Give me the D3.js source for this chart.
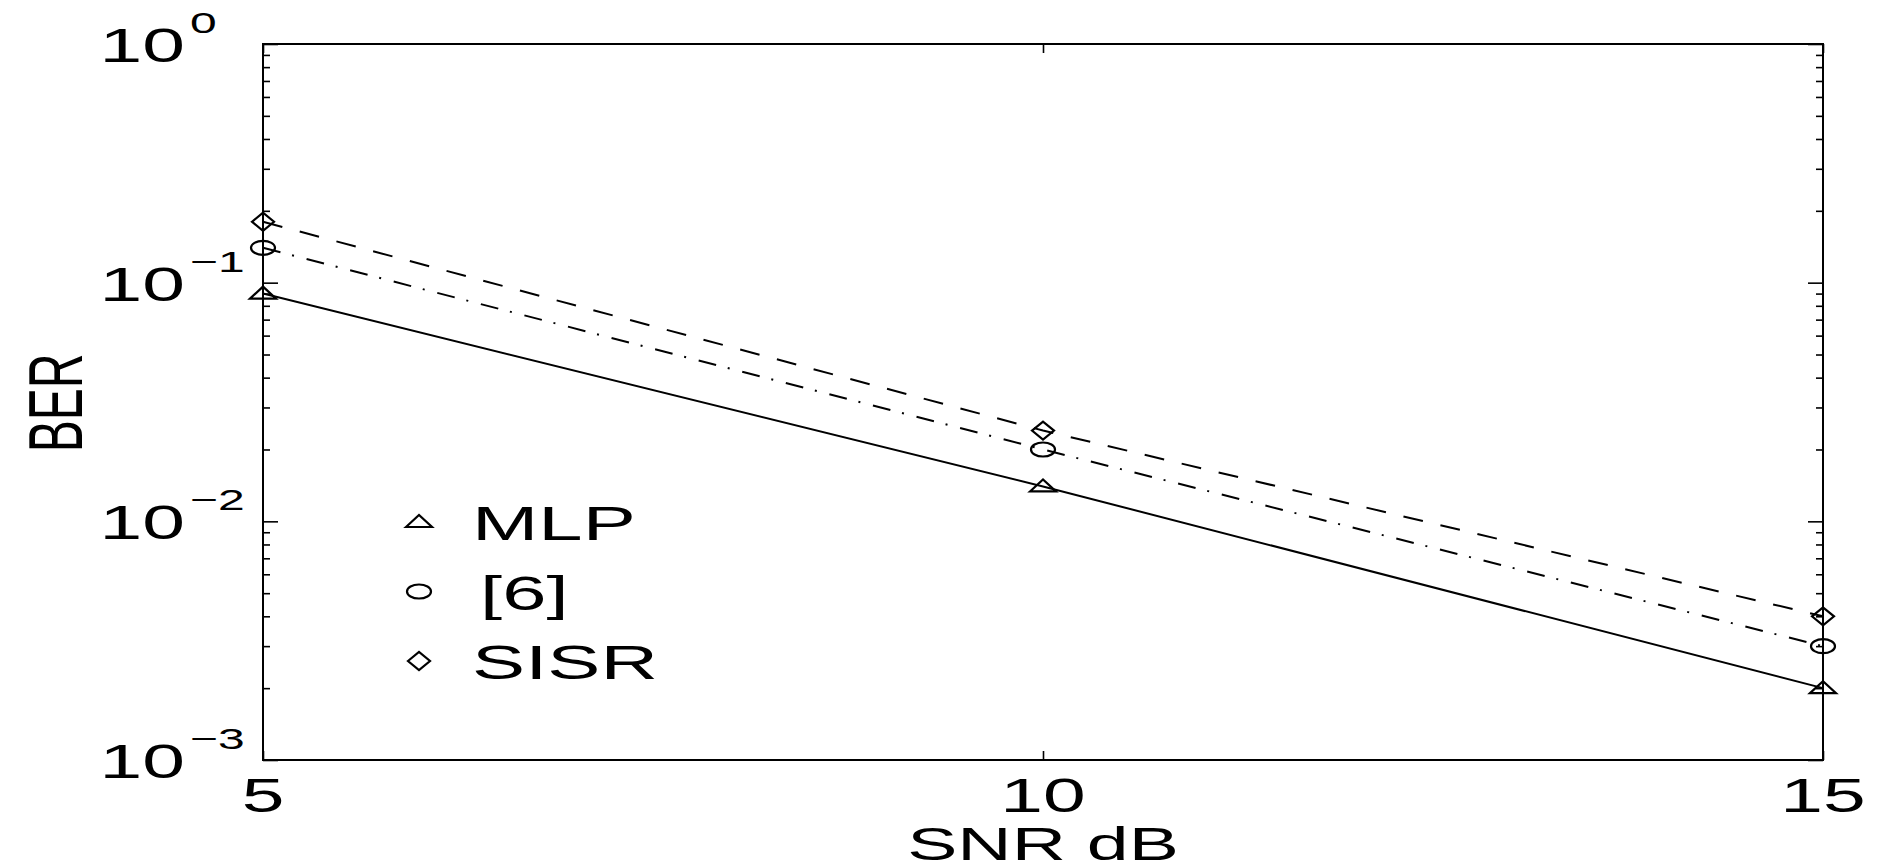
<!DOCTYPE html>
<html>
<head>
<meta charset="utf-8">
<script src="https://cdn.jsdelivr.net/npm/d3@7"></script>
<style>
  html, body { margin: 0; padding: 0; background: #fff; }
  svg { display: block; }
  text { font-family: "Liberation Sans", Arial, Helvetica, sans-serif; fill: #000; }
</style>
</head>
<body>
<svg width="1885" height="866"></svg>
<script>
// values
const snr = [5, 10, 15];
const berMLP = [0.09, 0.014, 0.002];
const ber6 = [0.14, 0.02, 0.003];
const berSISR = [0.18, 0.024, 0.004];
const seriesNames = ["MLP", "[6]", "SISR"];
const xTickValues = [5, 10, 15];
const yMajorValues = [1e-3, 1e-2, 1e-1, 1];
const yExponents = ["\u22123", "\u22122", "\u22121", "0"];

const svg = d3.select("svg");
const stretch = 1.6; // the whole figure is widened horizontally

const plotLeft = 263, plotRight = 1823, plotTop = 44, plotBottom = 760;
const x = d3.scaleLinear().domain([5, 15]).range([plotLeft, plotRight]);
const y = d3.scaleLog().domain([1e-3, 1]).range([plotBottom, plotTop]);

// ticks, all pointing inward
const minorVals = y.ticks().filter(v => !yMajorValues.some(m => Math.abs(m - v) / v < 1e-6));
const tickG = svg.append("g").attr("class", "ticks");

function axisTicks(axis, translate) {
  tickG.append("g")
    .attr("transform", translate)
    .call(axis)
    .call(g => g.select(".domain").remove())
    .call(g => g.selectAll("line").attr("stroke", "#000").attr("stroke-width", 1.6));
}

axisTicks(d3.axisLeft(y).tickValues(minorVals).tickSizeInner(-7).tickSizeOuter(0).tickFormat(""), `translate(${plotLeft},0)`);
axisTicks(d3.axisLeft(y).tickValues(yMajorValues).tickSizeInner(-15).tickSizeOuter(0).tickFormat(""), `translate(${plotLeft},0)`);
axisTicks(d3.axisRight(y).tickValues(minorVals).tickSizeInner(-7).tickSizeOuter(0).tickFormat(""), `translate(${plotRight},0)`);
axisTicks(d3.axisRight(y).tickValues(yMajorValues).tickSizeInner(-15).tickSizeOuter(0).tickFormat(""), `translate(${plotRight},0)`);
axisTicks(d3.axisBottom(x).tickValues(xTickValues).tickSizeInner(-9).tickSizeOuter(0).tickFormat(""), `translate(0,${plotBottom})`);
axisTicks(d3.axisTop(x).tickValues(xTickValues).tickSizeInner(-9).tickSizeOuter(0).tickFormat(""), `translate(0,${plotTop})`);

// frame
svg.append("rect")
  .attr("x", plotLeft).attr("y", plotTop)
  .attr("width", plotRight - plotLeft).attr("height", plotBottom - plotTop)
  .attr("fill", "none").attr("stroke", "#000").attr("stroke-width", 2);

// y tick labels: 10 with superscript exponent
yMajorValues.forEach((v, i) => {
  const ty = y(v);
  svg.append("text")
    .attr("transform", `translate(185,${ty + 18}) scale(${stretch},1)`)
    .attr("text-anchor", "end")
    .attr("font-size", 48)
    .text("10");
  svg.append("text")
    .attr("transform", `translate(190,${ty - 11}) scale(${stretch},1)`)
    .attr("text-anchor", "start")
    .attr("font-size", 30)
    .text(yExponents[i]);
});

// x tick labels
xTickValues.forEach(v => {
  svg.append("text")
    .attr("transform", `translate(${x(v)},812) scale(${stretch},1)`)
    .attr("text-anchor", "middle")
    .attr("font-size", 48)
    .text(v);
});

// axis titles
svg.append("text")
  .attr("transform", `translate(${(plotLeft + plotRight) / 2},860) scale(${stretch},1)`)
  .attr("text-anchor", "middle")
  .attr("font-size", 47)
  .text("SNR dB");

svg.append("text")
  .attr("transform", `translate(82,403) scale(${stretch},1) rotate(-90)`)
  .attr("text-anchor", "middle")
  .attr("font-size", 48)
  .text("BER");

// series
const markers = {
  triangle: "M-13,5L0,-7L13,5Z",
  circle: null,
  diamond: "M-11,0L0,-9L11,0L0,9Z"
};

const series = [
  { name: seriesNames[0], values: berMLP, dash: null, marker: "triangle" },
  { name: seriesNames[1], values: ber6, dash: "18,12,2,13", marker: "circle" },
  { name: seriesNames[2], values: berSISR, dash: "20,18", marker: "diamond" }
];

function drawMarker(g, type) {
  if (type === "circle") {
    g.append("ellipse").attr("rx", 12).attr("ry", 7);
  } else {
    g.append("path").attr("d", markers[type]);
  }
  g.selectAll("path, ellipse")
    .attr("fill", "none").attr("stroke", "#000").attr("stroke-width", 2.2);
}

const line = d3.line().x(d => x(d[0])).y(d => y(d[1]));

series.forEach(s => {
  const pts = snr.map((v, i) => [v, s.values[i]]);
  svg.append("path")
    .datum(pts)
    .attr("d", line)
    .attr("fill", "none")
    .attr("stroke", "#000")
    .attr("stroke-width", 2)
    .attr("stroke-dasharray", s.dash);
  pts.forEach(p => {
    const g = svg.append("g").attr("transform", `translate(${x(p[0])},${y(p[1])})`);
    drawMarker(g, s.marker);
  });
});

// legend (markers only)
series.forEach((s, i) => {
  const by = 540 + i * 69.5;
  const g = svg.append("g").attr("transform", `translate(419,${by - 18})`);
  drawMarker(g, s.marker);
  svg.append("text")
    .attr("transform", `translate(${i === 1 ? 480 : 472},${by}) scale(1.66,1)`)
    .attr("font-size", 48)
    .text(s.name);
});
</script>
</body>
</html>
